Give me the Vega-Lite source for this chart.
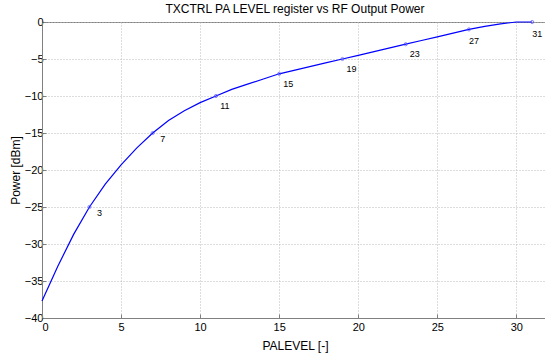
{
  "$schema": "https://vega.github.io/schema/vega-lite/v6.json",
  "width": 506,
  "height": 296,
  "autosize": {"type": "none"},
  "padding": {"left": 42, "top": 22, "right": 0, "bottom": 44},
  "background": "white",
  "title": {"text": "TXCTRL PA LEVEL register vs RF Output Power", "fontSize": 12, "font": "Liberation Sans", "fontWeight": "normal", "color": "#000000", "offset": 0, "frame": "group"},
  "config": {
    "view": {"stroke": "#808080", "strokeWidth": 1},
    "axis": {
      "labelFont": "Liberation Sans", "labelFontSize": 11, "labelColor": "#000000", "labelOverlap": false,
      "titleFont": "Liberation Sans", "titleFontSize": 12, "titleFontWeight": "normal", "titleColor": "#000000",
      "domainColor": "#808080", "tickColor": "#808080", "tickSize": -4,
      "gridColor": "#bbbbbb", "gridDash": [1, 2], "gridWidth": 1
    }
  },
  "datasets": {
    "curve": [
      {"level": 0, "power": -37.7},
      {"level": 1, "power": -33.0},
      {"level": 2, "power": -28.7},
      {"level": 3, "power": -25},
      {"level": 4, "power": -21.9},
      {"level": 5, "power": -19.3},
      {"level": 6, "power": -17.0},
      {"level": 7, "power": -15},
      {"level": 8, "power": -13.3},
      {"level": 9, "power": -12.0},
      {"level": 10, "power": -10.9},
      {"level": 11, "power": -10},
      {"level": 12, "power": -9.1},
      {"level": 13, "power": -8.4},
      {"level": 14, "power": -7.7},
      {"level": 15, "power": -7},
      {"level": 16, "power": -6.5},
      {"level": 17, "power": -6.0},
      {"level": 18, "power": -5.5},
      {"level": 19, "power": -5},
      {"level": 20, "power": -4.5},
      {"level": 21, "power": -4.0},
      {"level": 22, "power": -3.5},
      {"level": 23, "power": -3},
      {"level": 24, "power": -2.5},
      {"level": 25, "power": -2.0},
      {"level": 26, "power": -1.5},
      {"level": 27, "power": -1},
      {"level": 28, "power": -0.6},
      {"level": 29, "power": -0.25},
      {"level": 30, "power": 0},
      {"level": 31, "power": 0}
    ],
    "marks": [
      {"level": 3, "power": -25, "label": "3"},
      {"level": 7, "power": -15, "label": "7"},
      {"level": 11, "power": -10, "label": "11"},
      {"level": 15, "power": -7, "label": "15"},
      {"level": 19, "power": -5, "label": "19"},
      {"level": 23, "power": -3, "label": "23"},
      {"level": 27, "power": -1, "label": "27"},
      {"level": 31, "power": 0, "label": "31"}
    ]
  },
  "encoding": {
    "x": {"field": "level", "type": "quantitative", "scale": {"domain": [0, 32], "nice": false}, "axis": {"title": "PALEVEL [-]", "values": [0, 5, 10, 15, 20, 25, 30], "titlePadding": 8, "labelPadding": 7}},
    "y": {"field": "power", "type": "quantitative", "scale": {"domain": [-40, 0], "nice": false}, "axis": {"title": "Power [dBm]", "values": [-40, -35, -30, -25, -20, -15, -10, -5, 0], "titlePadding": 2, "labelPadding": 3}}
  },
  "layer": [
    {
      "data": {"name": "curve"},
      "mark": {"type": "line", "color": "#0000ff", "strokeWidth": 1.2}
    },
    {
      "data": {"name": "marks"},
      "mark": {"type": "point", "shape": "circle", "size": 10, "color": "#5050ff", "filled": false, "strokeWidth": 1}
    },
    {
      "data": {"name": "marks"},
      "transform": [{"filter": "datum.level <= 7"}],
      "mark": {"type": "text", "align": "center", "baseline": "middle", "dx": 10, "dy": 6, "fontSize": 9, "font": "Liberation Sans", "color": "#000000"},
      "encoding": {"text": {"field": "label"}}
    },
    {
      "data": {"name": "marks"},
      "transform": [{"filter": "datum.level > 7 && datum.level < 27"}],
      "mark": {"type": "text", "align": "center", "baseline": "middle", "dx": 9, "dy": 10, "fontSize": 9, "font": "Liberation Sans", "color": "#000000"},
      "encoding": {"text": {"field": "label"}}
    },
    {
      "data": {"name": "marks"},
      "transform": [{"filter": "datum.level >= 27"}],
      "mark": {"type": "text", "align": "center", "baseline": "middle", "dx": 5, "dy": 12, "fontSize": 9, "font": "Liberation Sans", "color": "#000000"},
      "encoding": {"text": {"field": "label"}}
    }
  ]
}
